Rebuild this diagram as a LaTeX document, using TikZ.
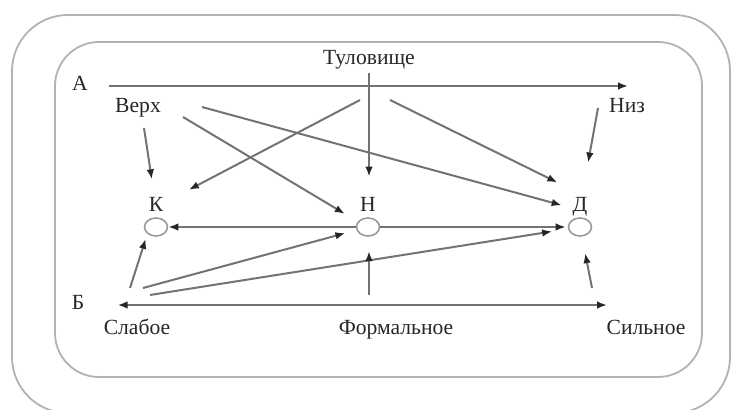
\documentclass[tikz,border=0pt]{standalone}
\usepackage{fontspec}
\setmainfont{Liberation Serif}
\usetikzlibrary{arrows.meta,shapes.geometric}
\tikzset{
  >={Latex[length=5pt,width=3.8pt,color=black!85]},
  txt/.style={inner sep=2pt,text=black!85,text height=7pt,text depth=2pt,font=\fontsize{10.8}{13}\selectfont},
  oval/.style={ellipse,draw=black!40,line width=0.8pt,fill=white,minimum width=11.5pt,minimum height=9pt,inner sep=0pt},
  link/.style={->,draw=black!55,line width=1pt},
  frame/.style={draw=black!30,line width=0.9pt}
}
\begin{document}
\begin{tikzpicture}[x=0.5pt,y=-0.5pt]
		\useasboundingbox (0,0) rectangle (731,410);
		\draw[frame,rounded corners=28pt] (12,15) rectangle (730,413);
		\draw[frame,rounded corners=22pt] (55,42) rectangle (702,377);
		% texts
		\node[txt] (tul) at (369,60) {Туловище};
		\node[txt] (a) at (80,86) {А};
		\node[txt] (verh) at (138,108) {Верх};
		\node[txt] (niz) at (627,108) {Низ};
		\node[txt] (kl) at (156,207) {К};
		\node[txt] (nl) at (368,207) {Н};
		\node[txt] (dl) at (580,207) {Д};
		\node[txt] (b) at (78,305) {Б};
		\node[txt] (slab) at (137,330) {Слабое};
		\node[txt] (form) at (396,330) {Формальное};
		\node[txt] (sil) at (646,330) {Сильное};
		% ovals
		\node[oval] (k) at (156,227) {};
		\node[oval] (n) at (368,227) {};
		\node[oval] (d) at (580,227) {};
		% free ends
		\coordinate (aend) at (628,86);
		\coordinate (bend) at (607,305);
		\coordinate (tk) at (360,100);
		\coordinate (td) at (390,100);
		\coordinate (vk) at (144,128);
		\coordinate (vn) at (183,117);
		\coordinate (vd) at (202,107);
		\coordinate (nd) at (598,108);
		\coordinate (sk) at (130,288);
		\coordinate (sn) at (143,288);
		\coordinate (sd) at (150,295);
		\coordinate (fn) at (369,295);
		\coordinate (sild) at (592,288);
		% axes
		\draw[link,shorten <=8.5pt] (a) -- (aend);
		\draw[link,<->,shorten <=14.5pt] (b) -- (bend);
		% from above
		\draw[link,shorten >=8.5pt] (tul.south) -- (tul.south |- nl.north);
		\draw[link,shorten >=12pt] (tk) -- (kl);
		\draw[link,shorten >=12.6pt] (td) -- (dl.north);
		\draw[link,shorten >=7.2pt] (vk) -- (kl);
		\draw[link,shorten >=6.4pt] (vn) -- (nl.south west);
		\draw[link,shorten >=3.4pt] (vd) -- (dl.west);
		\draw[link,shorten >=15.8pt] (nd) -- (dl);
		% between ovals
		\draw[link] (n) -- (k);
		\draw[link,shorten >=1pt] (n) -- (d);
		% from below
		\draw[link,shorten >=2.6pt] (sk) -- (k.south west);
		\draw[link,shorten >=5.7pt] (sn) -- (n);
		\draw[link,shorten >=8pt] (sd) -- (d);
		\draw[link,shorten >=7.2pt] (fn) -- (fn |- n.south);
		\draw[link,shorten >=8.4pt] (sild) -- (d);
\end{tikzpicture}
\end{document}
